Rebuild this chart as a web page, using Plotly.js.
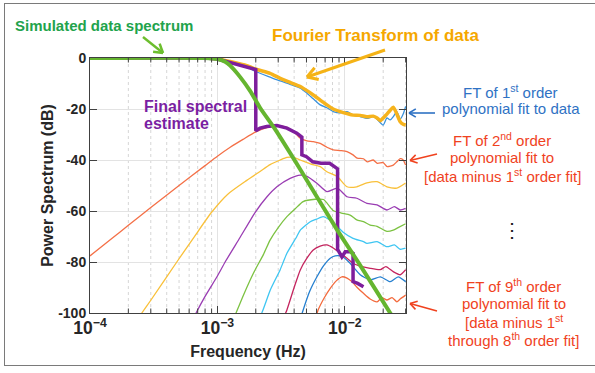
<!DOCTYPE html>
<html>
<head>
<meta charset="utf-8">
<script src="https://cdn.plot.ly/plotly-3.0.1.min.js"></script>
<style>
  html, body { margin: 0; padding: 0; background: #fff; }
  #wrap { position: relative; width: 595px; height: 373px; overflow: hidden; }
  #chart { position: absolute; left: 0; top: 0; width: 595px; height: 373px; }
  #frame { position: absolute; left: 4px; top: 3px; width: 600px; height: 363px;
           border: 1.5px solid #7a7a7a; pointer-events: none; box-sizing: border-box; }
</style>
</head>
<body>
<div id="wrap"><div id="chart"></div><div id="frame"></div></div>
<script>
// ---------- data (frequency in Hz, power in dB) ----------
const freqSim = [1e-4, 8e-4, 1.0e-3, 1.15e-3, 1.26e-3, 1.51e-3, 1.81e-3, 2.16e-3, 2.84e-3, 4.47e-3, 8.72e-3, 1.32e-2, 2.27e-2, 3.0e-2];
const dbSim   = [0, 0, -0.4, -1.5, -3, -7.5, -13, -19.5, -28, -43.7, -67.5, -81.3, -100, -109.6];

const freqFT = [1e-4, 8e-4, 1.0e-3, 1.26e-3, 1.70e-3, 2.04e-3, 2.59e-3, 3.11e-3, 3.72e-3, 4.47e-3, 5.04e-3, 5.65e-3, 6.41e-3, 7.23e-3, 8.11e-3, 9.2e-3, 1.04e-2, 1.16e-2, 1.32e-2, 1.49e-2, 1.67e-2, 1.79e-2, 1.90e-2, 2.0e-2, 2.14e-2, 2.27e-2, 2.40e-2, 2.56e-2, 2.72e-2, 2.87e-2, 3.0e-2];
const dbFT   = [0, 0, -0.3, -1.4, -3, -4.5, -6, -8, -9.6, -11.2, -12.8, -14.5, -16.5, -18.4, -20, -21, -21.8, -22.4, -22.5, -23, -22.8, -23.5, -24.6, -23.5, -22, -20.5, -19.3, -22, -25, -26, -26.3];

const freqOrd1 = [1e-4, 8e-4, 1.0e-3, 1.26e-3, 1.70e-3, 2.04e-3, 2.59e-3, 3.11e-3, 3.72e-3, 4.47e-3, 5.04e-3, 5.65e-3, 6.41e-3, 7.23e-3, 8.11e-3, 9.2e-3, 1.04e-2, 1.16e-2, 1.32e-2, 1.49e-2, 1.67e-2, 1.79e-2, 2.0e-2, 2.14e-2, 2.27e-2, 2.40e-2, 2.56e-2, 2.72e-2, 2.87e-2, 3.0e-2];
const dbOrd1   = [0, 0, -0.3, -1.5, -3.5, -5.5, -7.5, -9, -10.3, -11.8, -13.8, -16, -18.4, -19.5, -21, -21.5, -21, -22.4, -23, -23.7, -23, -24, -26.3, -23.5, -24.3, -23, -21, -24, -22, -19];

const freqOrd2 = [1e-4, 1.5e-4, 2e-4, 3e-4, 5e-4, 8e-4, 1e-3, 1.26e-3, 1.6e-3, 2.0e-3, 2.44e-3, 2.93e-3, 3.51e-3, 4.0e-3, 4.47e-3, 5.04e-3, 5.65e-3, 6.41e-3, 7.23e-3, 8.11e-3, 9.2e-3, 1.04e-2, 1.16e-2, 1.25e-2, 1.40e-2, 1.50e-2, 1.67e-2, 1.80e-2, 2.0e-2, 2.15e-2, 2.40e-2, 2.56e-2, 2.72e-2, 2.87e-2, 3.0e-2];
const dbOrd2   = [-77.6, -70.6, -65.6, -58.6, -50, -42.2, -38.5, -35, -31.8, -29, -27.3, -26.5, -27.2, -29, -31.5, -32.5, -32.8, -33.5, -35, -36, -36.3, -36.7, -38, -39.3, -39.5, -40.7, -40, -41.3, -41, -42.6, -42, -40.7, -39.5, -40, -42];

const freqOrd3 = [2.4e-4, 2.55e-4, 3e-4, 4.8e-4, 6.5e-4, 9.0e-4, 1.2e-3, 1.7e-3, 2.16e-3, 2.59e-3, 3.11e-3, 3.51e-3, 3.95e-3, 4.47e-3, 5.35e-3, 6.41e-3, 7.23e-3, 8.72e-3, 1.04e-2, 1.24e-2, 1.49e-2, 1.79e-2, 2.14e-2, 2.56e-2, 3.0e-2];
const dbOrd3   = [-102, -100, -95, -80, -70.5, -60.5, -53.5, -48, -44.5, -41.8, -40, -39, -39, -40, -41.5, -42.6, -44.6, -46.5, -50.5, -50.5, -49, -48.5, -50.5, -51, -49];

const freqOrd4 = [6.5e-4, 6.8e-4, 8.0e-4, 1.0e-3, 1.15e-3, 1.5e-3, 1.98e-3, 2.44e-3, 2.93e-3, 3.72e-3, 4.47e-3, 5.0e-3, 6.0e-3, 7.23e-3, 8.72e-3, 1.04e-2, 1.24e-2, 1.49e-2, 1.79e-2, 2.14e-2, 2.45e-2, 2.72e-2, 3.0e-2];
const dbOrd4   = [-102, -100, -93.5, -85.5, -80, -70.5, -60.5, -54.5, -50.5, -47.2, -45.9, -46.3, -49, -52.4, -51, -54.4, -55, -57, -57.6, -59.6, -58.3, -59.6, -59];

const freqOrd5 = [1.3e-3, 1.40e-3, 1.6e-3, 1.92e-3, 2.3e-3, 2.59e-3, 3.0e-3, 3.51e-3, 4.1e-3, 4.71e-3, 5.84e-3, 6.8e-3, 8.1e-3, 9.4e-3, 1.1e-2, 1.24e-2, 1.40e-2, 1.58e-2, 1.79e-2, 2.14e-2, 2.4e-2, 2.62e-2, 3.0e-2];
const dbOrd5   = [-104, -100, -93, -84.3, -77, -71.4, -66.5, -62.2, -59, -56.3, -55.4, -55.5, -59.8, -60.8, -61.6, -63.5, -64.2, -65.5, -66, -68, -67.5, -66.5, -65];

const freqOrd6 = [2.1e-3, 2.23e-3, 2.6e-3, 3.11e-3, 3.51e-3, 4.2e-3, 4.47e-3, 5.35e-3, 6.0e-3, 6.76e-3, 7.6e-3, 8.7e-3, 9.7e-3, 1.16e-2, 1.4e-2, 1.49e-2, 1.79e-2, 2.14e-2, 2.45e-2, 2.72e-2, 3.0e-2];
const dbOrd6   = [-102, -100, -91, -83, -76.6, -70, -67.5, -64.2, -63.2, -62.2, -63.5, -66, -68.3, -70.7, -72, -72.7, -72, -74, -73.3, -75, -74.6];

const freqOrd7 = [3.3e-3, 3.51e-3, 4.0e-3, 4.47e-3, 5.04e-3, 5.65e-3, 6.4e-3, 7.23e-3, 8.1e-3, 9.2e-3, 1.04e-2, 1.16e-2, 1.3e-2, 1.58e-2, 1.9e-2, 2.1e-2, 2.4e-2, 2.72e-2, 3.0e-2];
const dbOrd7   = [-102, -98.8, -90, -83.1, -78.5, -75.3, -73.8, -73.3, -74.5, -76.5, -78.5, -80.5, -81.5, -82.5, -83, -81.8, -83.8, -85, -83];

const freqOrd8 = [4.5e-3, 4.71e-3, 5.3e-3, 6.04e-3, 6.8e-3, 7.68e-3, 8.4e-3, 9.2e-3, 1.0e-2, 1.10e-2, 1.32e-2, 1.58e-2, 1.9e-2, 2.27e-2, 2.62e-2, 3.0e-2];
const dbOrd8   = [-102, -98.8, -91.5, -85.8, -81.5, -78.5, -77.6, -77.6, -78.5, -80.5, -85, -87, -85.8, -87.7, -85.8, -87.7];

const freqOrd9 = [5.9e-3, 6.17e-3, 6.9e-3, 7.68e-3, 8.6e-3, 9.48e-3, 1.04e-2, 1.136e-2, 1.25e-2, 1.40e-2, 1.58e-2, 1.79e-2, 1.95e-2, 2.14e-2, 2.35e-2, 2.56e-2, 2.72e-2, 3.0e-2];
const dbOrd9   = [-102, -98.8, -94, -90.3, -87.3, -85.8, -86.3, -87.7, -90, -92.3, -94.5, -95.6, -94, -94.9, -94, -95.6, -94.5, -93];

const freqFinal = [1e-4, 8e-4, 1.0e-3, 1.15e-3, 1.51e-3, 1.81e-3, 2.0e-3, 2.0e-3, 2.16e-3, 2.44e-3, 2.93e-3, 3.51e-3, 4.2e-3, 4.6e-3, 4.6e-3, 5.0e-3, 5.6e-3, 6.5e-3, 7.6e-3, 8.5e-3, 8.77e-3, 8.77e-3, 9.48e-3, 1.007e-2, 1.10e-2, 1.16e-2, 1.16e-2, 1.26e-2, 1.40e-2];
const dbFinal   = [0, 0, -0.4, -1.2, -2.6, -3.8, -4.5, -28.5, -27.5, -26.9, -26.5, -27.5, -29.5, -31, -38, -38.7, -40.7, -41.3, -41.3, -43, -43.5, -75, -78, -76, -76, -76.6, -87.7, -88.4, -89.7];

const yTickVals = [-100, -80, -60, -40, -20, 0];
const yTickText = ['-100', '-80', '-60', '-40', '-20', '0'];
const xDecades = [-4, -3, -2];
const xMinorDigits = [2, 3, 4, 5, 6, 7, 8, 9];
const xTitle = 'Frequency (Hz)';
const yTitle = 'Power Spectrum (dB)';

// ---------- styling ----------
const FONT = 'Liberation Sans, Arial, Helvetica, sans-serif';
const thin = 1.3;
function curve(x, y, color, width, shape) {
  return { x: x, y: y, type: 'scatter', mode: 'lines', hoverinfo: 'skip',
           line: { color: color, width: width, shape: shape || 'spline', smoothing: 0.6 } };
}
const traces = [
  curve(freqOrd9, dbOrd9, '#F36A3C', thin),
  curve(freqOrd8, dbOrd8, '#2680D0', thin),
  curve(freqOrd7, dbOrd7, '#C4245E', thin),
  curve(freqOrd6, dbOrd6, '#3FC6F2', thin),
  curve(freqOrd5, dbOrd5, '#7CC242', thin),
  curve(freqOrd4, dbOrd4, '#9A3DB3', thin),
  curve(freqOrd3, dbOrd3, '#F9C03A', thin),
  curve(freqOrd2, dbOrd2, '#F47047', thin),
  curve(freqOrd1, dbOrd1, '#3A92DC', thin),
  curve(freqFT, dbFT, '#F6B31C', 3.5),
  curve(freqFinal, dbFinal, '#7E1E9C', 3.5, 'linear'),
  curve(freqSim, dbSim, '#65B52F', 4)
];

// plot-area geometry (pixels) used for placing the notes
const L = 90, T = 58, W = 316, H = 255;
const X_RANGE = [-4, Math.log10(0.0302)];
const px = v => (v - L) / W;
const py = v => (T + H - v) / H;

function note(text, x, y, color, size, bold, xanchor) {
  return { text: text, xref: 'paper', yref: 'paper', x: px(x), y: py(y), showarrow: false,
           xanchor: xanchor || 'center', yanchor: 'middle',
           font: { family: FONT, size: size, color: color, weight: bold ? 'bold' : 'normal' } };
}
const RED = '#F0421E', BLUE = '#2F72C4';
const annotations = [
  note('Simulated data spectrum', 104, 25, '#22A34C', 15, true),
  note('Fourier Transform of data', 375.5, 35, '#F5A700', 17, true),
  note('Final spectral', 141.5, 106, '#7B1FA2', 16, true, 'left'),
  note('estimate', 141.5, 124, '#7B1FA2', 16, true, 'left'),
  note('FT of 1<sup>st</sup> order', 510.5, 91, BLUE, 15),
  note('polynomial fit to data', 510.5, 109, BLUE, 15),
  note('FT of 2<sup>nd</sup> order', 502, 139, RED, 15),
  note('polynomial fit to', 502, 157, RED, 15),
  note('[data minus 1<sup>st</sup> order fit]', 502, 175, RED, 15),
  note('\u22EE', 512, 230, '#222', 20),
  note('FT of 9<sup>th</sup> order', 513.5, 285, RED, 15),
  note('polynomial fit to', 513.5, 303, RED, 15),
  note('[data minus 1<sup>st</sup>', 513.5, 321, RED, 15),
  note('through 8<sup>th</sup> order fit]', 513.5, 339, RED, 15)
];

// arrows drawn as line shapes (shaft + open chevron head)
function arrow(x0, y0, x1, y1, color, width, head) {
  const dx = x1 - x0, dy = y1 - y0, len = Math.hypot(dx, dy);
  const ux = dx / len, uy = dy / len, a = 0.55;
  const wing = s => {
    const c = Math.cos(s * a), sn = Math.sin(s * a);
    const rx = -(ux * c - uy * sn), ry = -(ux * sn + uy * c);
    return [x1 + rx * head, y1 + ry * head];
  };
  const w1 = wing(1), w2 = wing(-1);
  const ln = (ax, ay, bx, by) => ({ type: 'line', xref: 'paper', yref: 'paper',
    x0: px(ax), y0: py(ay), x1: px(bx), y1: py(by), line: { color: color, width: width } });
  return [ln(x0, y0, x1, y1), ln(w1[0], w1[1], x1, y1), ln(w2[0], w2[1], x1, y1)];
}

// minor (2..9 per decade) log grid and tick marks, drawn as shapes on the paper
const minorShapes = [];
const minorLen = 4.5 / H;
xDecades.forEach(d => xMinorDigits.forEach(k => {
  const xp = (Math.log10(k) + d - X_RANGE[0]) / (X_RANGE[1] - X_RANGE[0]);
  if (xp <= 0 || xp >= 1) return;
  minorShapes.push({ type: 'line', xref: 'paper', yref: 'paper', layer: 'below',
    x0: xp, x1: xp, y0: 0, y1: 1, line: { color: '#d6d6d6', width: 1, dash: 'dot' } });
  minorShapes.push({ type: 'line', xref: 'paper', yref: 'paper',
    x0: xp, x1: xp, y0: 0, y1: minorLen, line: { color: '#404040', width: 1 } });
  minorShapes.push({ type: 'line', xref: 'paper', yref: 'paper',
    x0: xp, x1: xp, y0: 1 - minorLen, y1: 1, line: { color: '#404040', width: 1 } });
}));

const shapes = [].concat(
  minorShapes,
  arrow(143, 37, 163, 53, '#6CBE2E', 2.5, 10),
  arrow(385, 50, 307, 77, '#F5B316', 3, 12),
  arrow(435, 113, 409, 113, BLUE, 1.6, 8),
  arrow(437, 154, 410, 160.5, RED, 1.6, 8),
  arrow(437, 311, 410, 303.5, RED, 1.6, 8)
);

const tickFont = { family: FONT, size: 14, color: '#262626', weight: 'bold' };
const titleFont = { family: FONT, size: 16, color: '#262626', weight: 'bold' };
const layout = {
  width: 595, height: 373,
  margin: { l: L, r: 595 - L - W, t: T, b: 373 - T - H },
  paper_bgcolor: '#fff', plot_bgcolor: '#fff',
  showlegend: false,
  xaxis: {
    type: 'log', range: X_RANGE,
    dtick: 1, exponentformat: 'power', showexponent: 'all',
    ticks: 'inside', ticklen: 7, tickcolor: '#404040', tickwidth: 1,
    showline: true, linecolor: '#404040', linewidth: 1, mirror: 'ticks',
    showgrid: true, gridcolor: '#e3e3e3', gridwidth: 1,
    tickfont: tickFont, zeroline: false, fixedrange: true,
    title: { text: xTitle, font: titleFont, standoff: 8 }, automargin: false
  },
  yaxis: {
    range: [-100, 0], tickvals: yTickVals, ticktext: yTickText,
    ticks: 'inside', ticklen: 7, tickcolor: '#404040',
    showline: true, linecolor: '#404040', linewidth: 1, mirror: 'ticks',
    showgrid: true, gridcolor: '#e3e3e3', gridwidth: 1,
    tickfont: tickFont, zeroline: false, fixedrange: true,
    title: { text: yTitle, font: titleFont, standoff: 0 }, automargin: false
  },
  annotations: annotations,
  shapes: shapes
};
const SVGNS = 'http://www.w3.org/2000/svg';
const ZW = /[\u200b\u200c\u200d\ufeff]/g;
Plotly.newPlot('chart', traces, layout, { staticPlot: true, displayModeBar: false }).then(() => {
  // drop Plotly's off-screen text-measuring helper
  const tester = document.getElementById('js-plotly-tester');
  if (tester) tester.remove();
  // replace zero-width baseline-reset spans by a span around the following text (same rendering)
  Array.from(document.querySelectorAll('#chart tspan')).forEach(ts => {
    if (ts.querySelector('tspan')) return;
    if (ts.textContent.replace(ZW, '') !== '') return;
    const dy = ts.getAttribute('dy');
    const next = ts.nextSibling;
    if (dy && next) {
      if (next.nodeType === 3) {
        const w = document.createElementNS(SVGNS, 'tspan');
        w.setAttribute('dy', dy);
        ts.parentNode.insertBefore(w, next);
        w.appendChild(next);
      } else if (next.nodeType === 1 && !next.getAttribute('dy')) {
        next.setAttribute('dy', dy);
      } else {
        return;
      }
    }
    ts.remove();
  });
  // give superscript spans an explicit pixel size (same rendering)
  document.querySelectorAll('#chart tspan').forEach(ts => {
    const parent = ts.parentNode.closest('text, tspan');
    const base = parseFloat(getComputedStyle(parent).fontSize) || 15;
    const fs = ts.style.fontSize;
    if (fs && fs.trim().endsWith('%')) {
      ts.style.fontSize = (base * parseFloat(fs) / 100).toFixed(2) + 'px';
    } else if (!fs) {
      ts.style.fontSize = base + 'px';
    }
  });
});
</script>
</body>
</html>
